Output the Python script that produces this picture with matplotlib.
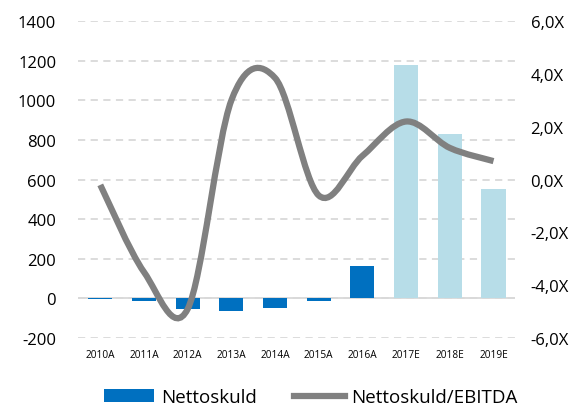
import matplotlib
matplotlib.use("Agg")
import matplotlib.pyplot as plt
import numpy as np
from matplotlib.path import Path
from matplotlib.patches import PathPatch, Patch
from matplotlib.lines import Line2D
from matplotlib.ticker import FuncFormatter

plt.rcParams['font.family'] = ['Open Sans', 'DejaVu Sans']
plt.rcParams['axes.unicode_minus'] = False

years = ['2010A', '2011A', '2012A', '2013A', '2014A', '2015A', '2016A',
         '2017E', '2018E', '2019E']
nettoskuld = [-3, -12, -55, -65, -50, -15, 165, 1180, 830, 555]
ratio = [-0.2, -3.5, -4.9, 3.0, 3.85, -0.6, 0.9, 2.2, 1.2, 0.7]
estimate = [False] * 7 + [True] * 3

DARK = '#0070C0'
LIGHT = '#B7DDE8'
GRAY = '#808080'


def smooth_path(xs, ys):
    # Excel-like smoothed line: bezier with catmull-rom control points
    pts = np.column_stack([xs, ys]).astype(float)
    n = len(pts)
    verts = [pts[0]]
    codes = [Path.MOVETO]
    for i in range(n - 1):
        p0 = pts[i - 1] if i > 0 else pts[i]
        p1 = pts[i]
        p2 = pts[i + 1]
        p3 = pts[i + 2] if i + 2 < n else pts[i + 1]
        c1 = p1 + (p2 - p0) / 6
        c2 = p2 - (p3 - p1) / 6
        verts += [c1, c2, p2]
        codes += [Path.CURVE4] * 3
    return Path(verts, codes)


fig = plt.figure(figsize=(5.81, 4.10), dpi=100)
ax = fig.add_axes([0.135, 0.173, 0.752, 0.773])
x = np.arange(len(years))
colors = [LIGHT if e else DARK for e in estimate]
ax.bar(x, nettoskuld, width=0.55, color=colors, zorder=2)
ax.set_xlim(-0.5, len(years) - 0.5)
ax.set_ylim(-200, 1400)
ax.set_yticks(range(-200, 1401, 200))
ax.grid(axis='y', color='#D9D9D9', linestyle=(0, (4, 3)), linewidth=1.3, zorder=0)
ax.axhline(0, color='#D9D9D9', linewidth=1.3, zorder=1)
ax.set_xticks(x)
ax.set_xticklabels(years, fontsize=7.3)
ax.tick_params(axis='y', labelsize=12, length=0, pad=16)
ax.tick_params(axis='x', length=0, pad=8)
for s in ax.spines.values():
    s.set_visible(False)

ax2 = ax.twinx()
ax2.set_ylim(-6, 6)
ax2.set_yticks(range(-6, 7, 2))
ax2.yaxis.set_major_formatter(FuncFormatter(lambda v, p: f"{v:.1f}X".replace('.', ',')))
ax2.tick_params(axis='y', labelsize=12, length=0, pad=11)
for s in ax2.spines.values():
    s.set_visible(False)
ax2.add_patch(PathPatch(smooth_path(x, ratio), facecolor='none', edgecolor=GRAY,
                        linewidth=4.5, capstyle='butt', zorder=3))

handles = [Patch(facecolor=DARK, label='Nettoskuld'),
           Line2D([0], [0], color=GRAY, linewidth=4.5, label='Nettoskuld/EBITDA')]
fig.legend(handles=handles, loc='lower center', bbox_to_anchor=(0.535, -0.035), ncol=2,
           frameon=False, fontsize=13.5, handlelength=2.7, handleheight=0.7,
           columnspacing=2.0, handletextpad=0.35)

fig.savefig('out.png', dpi=100)
